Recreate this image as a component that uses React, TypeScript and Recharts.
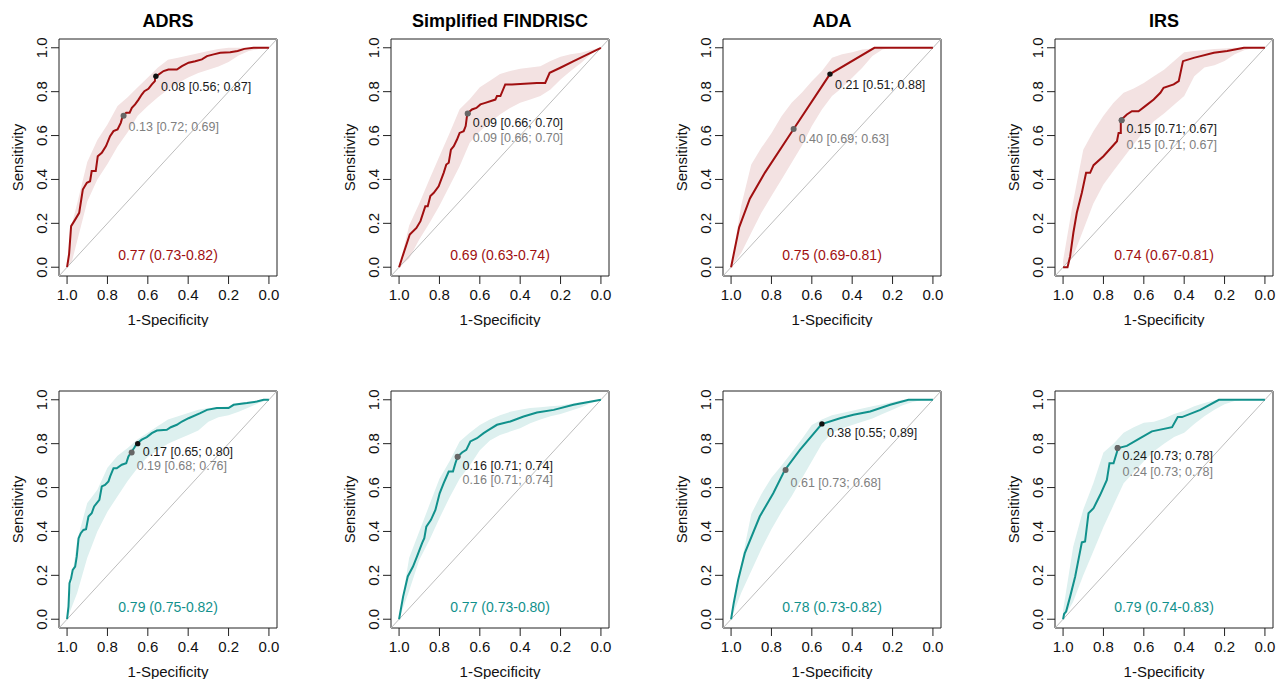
import React from 'react';
import { ComposedChart, Line, Area, XAxis, YAxis, ReferenceLine, ReferenceDot, ReferenceArea } from 'recharts';

const FONT = '"Liberation Sans", Arial, Helvetica, sans-serif';
const RED = '#A00F10';
const RED_BAND = '#F3E2E2';
const TEAL = '#11918C';
const TEAL_BAND = '#DDF0EF';

const titles = ['ADRS', 'Simplified FINDRISC', 'ADA', 'IRS'];
const axisTicks = [0, 0.2, 0.4, 0.6, 0.8, 1];
const xAxisTitle = '1-Specificity';
const yAxisTitle = 'Sensitivity';

// ROC curves: [specificity, sensitivity]
const adrsTopCurve: number[][] = [[1,0],[0.99,0.06],[0.98,0.187],[0.96,0.217],[0.94,0.248],[0.922,0.354],[0.902,0.385],[0.886,0.392],[0.878,0.438],[0.858,0.438],[0.848,0.506],[0.828,0.521],[0.807,0.552],[0.787,0.597],[0.77,0.62],[0.75,0.628],[0.734,0.658],[0.724,0.69],[0.707,0.704],[0.69,0.704],[0.679,0.726],[0.663,0.742],[0.646,0.764],[0.63,0.787],[0.617,0.802],[0.597,0.813],[0.58,0.833],[0.565,0.848],[0.563,0.87],[0.547,0.878],[0.522,0.894],[0.498,0.901],[0.456,0.901],[0.431,0.916],[0.398,0.932],[0.365,0.939],[0.332,0.947],[0.307,0.962],[0.274,0.97],[0.241,0.977],[0.192,0.98],[0.155,0.985],[0.122,0.995],[0.076,1],[0,1]];
const findriscTopCurve: number[][] = [[1,0],[0.985,0.043],[0.947,0.149],[0.914,0.179],[0.894,0.21],[0.87,0.278],[0.858,0.278],[0.845,0.324],[0.828,0.339],[0.804,0.369],[0.779,0.43],[0.766,0.468],[0.754,0.476],[0.743,0.536],[0.729,0.552],[0.713,0.582],[0.7,0.612],[0.68,0.62],[0.67,0.643],[0.662,0.70],[0.639,0.719],[0.617,0.726],[0.597,0.742],[0.573,0.749],[0.523,0.764],[0.515,0.78],[0.498,0.78],[0.474,0.833],[0.441,0.833],[0.317,0.84],[0.276,0.84],[0.254,0.886],[0.201,0.909],[0.135,0.939],[0,1]];
const adaTopCurve: number[][] = [[1,0],[0.96,0.182],[0.907,0.312],[0.833,0.43],[0.69,0.63],[0.51,0.88],[0.29,1],[0,1]];
const irsTopCurve: number[][] = [[1,0],[0.978,0],[0.965,0.05],[0.949,0.157],[0.932,0.248],[0.907,0.339],[0.886,0.43],[0.866,0.43],[0.849,0.465],[0.8,0.506],[0.733,0.574],[0.725,0.612],[0.714,0.612],[0.714,0.67],[0.684,0.696],[0.659,0.711],[0.626,0.711],[0.593,0.734],[0.551,0.764],[0.518,0.795],[0.502,0.818],[0.452,0.833],[0.427,0.848],[0.406,0.939],[0.353,0.954],[0.253,0.977],[0.187,0.985],[0.104,1],[0,1]];
const adrsBottomCurve: number[][] = [[1,0],[0.993,0.058],[0.988,0.164],[0.98,0.187],[0.972,0.225],[0.96,0.24],[0.952,0.286],[0.943,0.369],[0.932,0.392],[0.919,0.407],[0.906,0.41],[0.894,0.468],[0.878,0.483],[0.866,0.514],[0.853,0.529],[0.84,0.544],[0.828,0.605],[0.812,0.612],[0.795,0.628],[0.787,0.65],[0.77,0.688],[0.754,0.688],[0.729,0.704],[0.707,0.711],[0.696,0.742],[0.683,0.76],[0.668,0.78],[0.655,0.80],[0.63,0.818],[0.605,0.83],[0.58,0.848],[0.555,0.86],[0.506,0.863],[0.486,0.875],[0.456,0.886],[0.431,0.901],[0.398,0.916],[0.34,0.939],[0.307,0.954],[0.258,0.962],[0.2,0.962],[0.175,0.977],[0.109,0.985],[0.06,0.992],[0.026,1],[0,1]];
const findriscBottomCurve: number[][] = [[1,0],[0.98,0.103],[0.957,0.195],[0.931,0.24],[0.911,0.286],[0.886,0.347],[0.875,0.369],[0.865,0.422],[0.842,0.453],[0.82,0.498],[0.799,0.574],[0.779,0.62],[0.754,0.673],[0.733,0.673],[0.721,0.711],[0.71,0.74],[0.688,0.76],[0.667,0.772],[0.647,0.81],[0.614,0.825],[0.581,0.848],[0.556,0.863],[0.515,0.886],[0.449,0.901],[0.383,0.924],[0.317,0.942],[0.234,0.954],[0.135,0.977],[0,1]];
const adaBottomCurve: number[][] = [[1,0],[0.987,0.073],[0.965,0.179],[0.932,0.301],[0.858,0.468],[0.791,0.574],[0.735,0.678],[0.659,0.772],[0.551,0.889],[0.46,0.916],[0.394,0.932],[0.311,0.947],[0.212,0.977],[0.121,1],[0,1]];
const irsBottomCurve: number[][] = [[1,0],[0.995,0.024],[0.985,0.035],[0.965,0.103],[0.94,0.195],[0.907,0.35],[0.891,0.354],[0.874,0.483],[0.849,0.506],[0.816,0.567],[0.783,0.635],[0.77,0.711],[0.75,0.711],[0.727,0.78],[0.684,0.79],[0.618,0.825],[0.56,0.856],[0.46,0.875],[0.432,0.921],[0.411,0.921],[0.32,0.954],[0.228,1],[0,1]];

// Confidence bands: [specificity, lower sensitivity, upper sensitivity]
const adrsTopBand: number[][] = [[1,0,0],[0.975,0.03,0.2],[0.95,0.12,0.29],[0.9,0.30,0.48],[0.85,0.40,0.58],[0.8,0.47,0.65],[0.75,0.55,0.735],[0.7,0.615,0.775],[0.65,0.69,0.82],[0.6,0.735,0.865],[0.55,0.775,0.91],[0.5,0.81,0.945],[0.45,0.84,0.955],[0.4,0.865,0.965],[0.35,0.885,0.975],[0.3,0.90,0.985],[0.25,0.915,0.995],[0.2,0.935,1],[0.15,0.965,1],[0.1,0.985,1],[0.05,0.995,1],[0,1,1]];
const findriscTopBand: number[][] = [[1,0,0],[0.95,0.04,0.19],[0.9,0.126,0.29],[0.85,0.2,0.40],[0.8,0.28,0.506],[0.75,0.37,0.61],[0.7,0.46,0.72],[0.65,0.567,0.765],[0.6,0.62,0.82],[0.55,0.66,0.85],[0.5,0.696,0.88],[0.45,0.726,0.894],[0.4,0.749,0.905],[0.35,0.764,0.91],[0.3,0.78,0.916],[0.25,0.81,0.94],[0.2,0.856,0.959],[0.15,0.894,0.97],[0.1,0.93,0.977],[0.05,0.97,0.99],[0,1,1]];
const adaTopBand: number[][] = [[1,0,0],[0.95,0.065,0.28],[0.9,0.157,0.468],[0.85,0.248,0.544],[0.8,0.324,0.61],[0.75,0.40,0.688],[0.7,0.476,0.75],[0.65,0.552,0.795],[0.6,0.643,0.848],[0.55,0.719,0.894],[0.5,0.78,0.955],[0.45,0.818,0.97],[0.4,0.863,0.98],[0.35,0.909,0.992],[0.3,0.962,0.997],[0.25,0.992,1],[0.2,1,1],[0,1,1]];
const irsTopBand: number[][] = [[1,0,0.03],[0.95,0.05,0.30],[0.9,0.17,0.535],[0.85,0.29,0.62],[0.8,0.377,0.69],[0.75,0.44,0.75],[0.7,0.50,0.795],[0.65,0.56,0.815],[0.6,0.62,0.84],[0.55,0.665,0.87],[0.5,0.70,0.90],[0.45,0.74,0.94],[0.4,0.78,0.98],[0.35,0.87,0.985],[0.3,0.91,0.99],[0.25,0.92,0.995],[0.2,0.94,0.997],[0.15,0.97,1],[0.1,0.99,1],[0.05,1,1],[0,1,1]];
const adrsBottomBand: number[][] = [[1,0,0.02],[0.95,0.12,0.36],[0.9,0.28,0.53],[0.85,0.40,0.59],[0.8,0.49,0.69],[0.75,0.56,0.745],[0.7,0.63,0.78],[0.65,0.69,0.82],[0.6,0.74,0.85],[0.55,0.77,0.88],[0.5,0.80,0.91],[0.45,0.82,0.925],[0.4,0.84,0.94],[0.35,0.86,0.955],[0.3,0.90,0.962],[0.25,0.92,0.966],[0.2,0.93,0.97],[0.15,0.945,0.985],[0.1,0.965,0.99],[0.05,0.985,0.995],[0,1,1]];
const findriscBottomBand: number[][] = [[1,0,0],[0.95,0.13,0.28],[0.9,0.27,0.40],[0.85,0.36,0.52],[0.8,0.46,0.64],[0.75,0.555,0.72],[0.7,0.64,0.81],[0.65,0.70,0.85],[0.6,0.77,0.885],[0.55,0.815,0.91],[0.5,0.84,0.93],[0.45,0.855,0.945],[0.4,0.87,0.955],[0.35,0.893,0.962],[0.3,0.91,0.966],[0.25,0.925,0.97],[0.2,0.935,0.974],[0.15,0.95,0.982],[0.1,0.965,0.99],[0.05,0.985,0.995],[0,1,1]];
const adaBottomBand: number[][] = [[1,0,0],[0.95,0.12,0.25],[0.9,0.22,0.48],[0.85,0.32,0.57],[0.8,0.41,0.645],[0.75,0.49,0.70],[0.7,0.56,0.76],[0.65,0.64,0.82],[0.6,0.72,0.885],[0.55,0.80,0.91],[0.5,0.85,0.93],[0.45,0.87,0.94],[0.4,0.885,0.95],[0.35,0.90,0.96],[0.3,0.915,0.97],[0.25,0.935,0.98],[0.2,0.955,0.99],[0.15,0.975,1],[0.1,0.99,1],[0.05,1,1],[0,1,1]];
const irsBottomBand: number[][] = [[1,0,0.04],[0.95,0.08,0.33],[0.9,0.20,0.50],[0.85,0.31,0.62],[0.8,0.42,0.76],[0.75,0.52,0.80],[0.7,0.62,0.85],[0.65,0.67,0.875],[0.6,0.72,0.895],[0.55,0.765,0.90],[0.5,0.80,0.915],[0.45,0.83,0.935],[0.4,0.85,0.95],[0.35,0.89,0.97],[0.3,0.925,0.985],[0.25,0.955,0.998],[0.2,0.98,1],[0.15,0.995,1],[0.1,1,1],[0,1,1]];

// Thresholds: first = best (black), second = alternative (grey)  [threshold, specificity, sensitivity]
const adrsTopThr: [string, number, number][] = [['0.08',0.56,0.87],['0.13',0.72,0.69]];
const findriscTopThr: [string, number, number][] = [['0.09',0.66,0.70],['0.09',0.66,0.70]];
const adaTopThr: [string, number, number][] = [['0.21',0.51,0.88],['0.40',0.69,0.63]];
const irsTopThr: [string, number, number][] = [['0.15',0.71,0.67],['0.15',0.71,0.67]];
const adrsBottomThr: [string, number, number][] = [['0.17',0.65,0.80],['0.19',0.68,0.76]];
const findriscBottomThr: [string, number, number][] = [['0.16',0.71,0.74],['0.16',0.71,0.74]];
const adaBottomThr: [string, number, number][] = [['0.38',0.55,0.89],['0.61',0.73,0.68]];
const irsBottomThr: [string, number, number][] = [['0.24',0.73,0.78],['0.24',0.73,0.78]];

// AUC (lower-upper)
const aucTop = [[0.77,0.73,0.82],[0.69,0.63,0.74],[0.75,0.69,0.81],[0.74,0.67,0.81]];
const aucBottom = [[0.79,0.75,0.82],[0.77,0.73,0.80],[0.78,0.73,0.82],[0.79,0.74,0.83]];

// ---------- layout ----------
const BOX_W = 218;
const BOX_H = 237;
const Y_AXIS_W = 59;
const CHART_W = 285;
const CHART_H = 327;
const MARGIN_TOP = 39;
const colLeft = [59, 391, 723, 1055];
const rowTop = [39, 391];
const labelDy = [[10.3, 10.5], [8.7, 23.4], [10.7, 9.7], [8, 24], [7.7, 13.3], [8.3, 23], [8.4, 12.6], [7.7, 23.7]];

const XTick = (props: any) => {
  const { x, y, payload } = props;
  return (
    <text x={x} y={y + 10.7} textAnchor="middle" fontSize={15} fontFamily={FONT} fill="#111">
      {Number(payload.value).toFixed(1)}
    </text>
  );
};

const YTick = (props: any) => {
  const { x, y, payload } = props;
  return (
    <text transform={`translate(${x},${y}) rotate(-90)`} x={0} y={0} textAnchor="middle" fontSize={15} fontFamily={FONT} fill="#111">
      {Number(payload.value).toFixed(1)}
    </text>
  );
};

const XTitle = (props: any) => {
  const vb = props.viewBox || {};
  return (
    <text x={vb.x + vb.width / 2} y={vb.y + 48.5} textAnchor="middle" fontSize={15} fontFamily={FONT} fill="#111">
      {xAxisTitle}
    </text>
  );
};

const YTitle = (props: any) => {
  const vb = props.viewBox || {};
  const bx = vb.x + vb.width - 36.3;
  const cy = vb.y + vb.height / 2;
  return (
    <text transform={`translate(${bx},${cy}) rotate(-90)`} x={0} y={0} textAnchor="middle" fontSize={15} fontFamily={FONT} fill="#111">
      {yAxisTitle}
    </text>
  );
};

const makeTitle = (title?: string) => (props: any) => {
  if (!title) return null;
  const vb = props.viewBox || {};
  return (
    <text x={vb.x + vb.width / 2} y={vb.y - 12.3} textAnchor="middle" fontSize={18} fontWeight="bold" fontFamily={FONT} fill="#000">
      {title}
    </text>
  );
};

type PanelProps = {
  curve: number[][];
  band: number[][];
  thr: [string, number, number][];
  auc: number[];
  color: string;
  bandColor: string;
  title?: string;
  col: number;
  row: number;
  dys: number[];
};

const thrText = (t: [string, number, number]) => `${t[0]} [${t[1].toFixed(2)}; ${t[2].toFixed(2)}]`;

function Panel({ curve, band, thr, auc, color, bandColor, title, col, row, dys }: PanelProps) {
  const curveData = curve.map(([s, y]) => ({ s, y }));
  const bandData = band.map(([s, lo, hi]) => ({ s, range: [lo, hi] }));
  const aucText = `${auc[0].toFixed(2)} (${auc[1].toFixed(2)}-${auc[2].toFixed(2)})`;
  const best = thr[0];
  const alt = thr[1];
  return (
    <div style={{ position: 'absolute', left: colLeft[col] - Y_AXIS_W, top: rowTop[row] - MARGIN_TOP, width: CHART_W, height: CHART_H }}>
      <ComposedChart
        width={CHART_W}
        height={CHART_H}
        margin={{ top: MARGIN_TOP, right: CHART_W - Y_AXIS_W - BOX_W, bottom: 0, left: 0 }}
      >
        <XAxis
          type="number"
          dataKey="s"
          domain={[-0.04, 1.04]}
          reversed
          allowDataOverflow
          ticks={axisTicks}
          interval={0}
          tickSize={8}
          tickMargin={5.5}
          axisLine={false}
          tickLine={{ stroke: '#222' }}
          height={CHART_H - MARGIN_TOP - BOX_H}
          tick={<XTick />}
          label={XTitle}
        />
        <YAxis
          type="number"
          domain={[-0.04, 1.04]}
          allowDataOverflow
          ticks={axisTicks}
          interval={0}
          tickSize={8}
          tickMargin={4.3}
          axisLine={false}
          tickLine={{ stroke: '#222' }}
          width={Y_AXIS_W}
          tick={<YTick />}
          label={YTitle}
        />
        <ReferenceLine
          segment={[{ x: 1.04, y: -0.04 }, { x: -0.04, y: 1.04 }]}
          stroke="#BDBDBD"
          strokeWidth={1}
          ifOverflow="visible"
        />
        <Area
          data={bandData}
          dataKey="range"
          type="linear"
          stroke="none"
          fill={bandColor}
          fillOpacity={1}
          isAnimationActive={false}
          activeDot={false}
        />
        <Line
          data={curveData}
          dataKey="y"
          type="linear"
          stroke={color}
          strokeWidth={2}
          dot={false}
          activeDot={false}
          isAnimationActive={false}
        />
        <ReferenceDot
          x={best[1]}
          y={best[2]}
          ifOverflow="visible"
          shape={(p: any) => (
            <g>
              <circle cx={p.cx} cy={p.cy} r={2.7} fill="#111" />
              <text x={p.cx + 5} y={p.cy + dys[0] + 4.5} fontSize={12.5} fontFamily={FONT} fill="#1a1a1a">
                {thrText(best)}
              </text>
            </g>
          )}
        />
        <ReferenceDot
          x={alt[1]}
          y={alt[2]}
          ifOverflow="visible"
          shape={(p: any) => (
            <g>
              <circle cx={p.cx} cy={p.cy} r={3} fill="#666" />
              <text x={p.cx + 5} y={p.cy + dys[1] + 4.5} fontSize={12.5} fontFamily={FONT} fill="#808080">
                {thrText(alt)}
              </text>
            </g>
          )}
        />
        <ReferenceDot
          x={0.5}
          y={0.055}
          ifOverflow="visible"
          shape={(p: any) => (
            <text x={p.cx} y={p.cy + 5} textAnchor="middle" fontSize={14} fontFamily={FONT} fill={color}>
              {aucText}
            </text>
          )}
        />
        <ReferenceArea
          x1={-0.04}
          x2={1.04}
          y1={-0.04}
          y2={1.04}
          fill="none"
          stroke="#222"
          strokeWidth={1}
          ifOverflow="visible"
          label={makeTitle(title)}
        />
      </ComposedChart>
    </div>
  );
}

export default function App() {
  const tops = [
    { curve: adrsTopCurve, band: adrsTopBand, thr: adrsTopThr },
    { curve: findriscTopCurve, band: findriscTopBand, thr: findriscTopThr },
    { curve: adaTopCurve, band: adaTopBand, thr: adaTopThr },
    { curve: irsTopCurve, band: irsTopBand, thr: irsTopThr },
  ];
  const bottoms = [
    { curve: adrsBottomCurve, band: adrsBottomBand, thr: adrsBottomThr },
    { curve: findriscBottomCurve, band: findriscBottomBand, thr: findriscBottomThr },
    { curve: adaBottomCurve, band: adaBottomBand, thr: adaBottomThr },
    { curve: irsBottomCurve, band: irsBottomBand, thr: irsBottomThr },
  ];
  return (
    <div style={{ position: 'absolute', left: 0, top: 0, width: 1282, height: 679, overflow: 'hidden', background: '#fff', fontFamily: FONT }}>
      {tops.map((p, i) => (
        <Panel key={'t' + i} {...p} auc={aucTop[i]} color={RED} bandColor={RED_BAND} title={titles[i]} col={i} row={0} dys={labelDy[i]} />
      ))}
      {bottoms.map((p, i) => (
        <Panel key={'b' + i} {...p} auc={aucBottom[i]} color={TEAL} bandColor={TEAL_BAND} col={i} row={1} dys={labelDy[4 + i]} />
      ))}
    </div>
  );
}
